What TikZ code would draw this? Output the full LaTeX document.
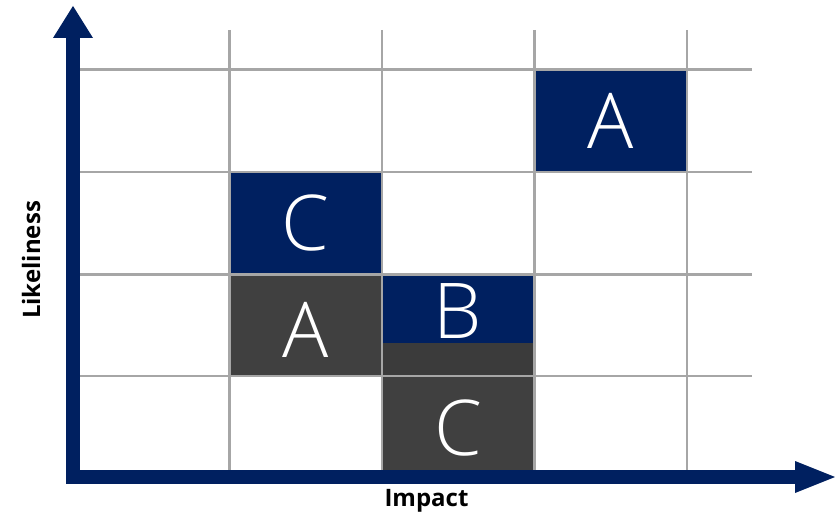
\documentclass[tikz,border=0pt]{standalone}
\usepackage{fontspec}
\setmainfont{Open Sans}
\newfontfamily\lightfont{Open Sans Light}
\definecolor{navy}{HTML}{002060}
\definecolor{dgray}{HTML}{404040}
\definecolor{dgrayb}{HTML}{3B3B3B}
\definecolor{gridc}{HTML}{A6A6A6}
\tikzset{
  cellblue/.style={fill=navy},
  cellgray/.style={fill=dgray},
  gridline/.style={draw=gridc, line width=2.5pt},
  axisline/.style={draw=navy, line width=14pt},
  axishead/.style={fill=navy},
  bigletter/.style={text=white, anchor=base, inner sep=0pt, font=\lightfont\fontsize{77}{77}\selectfont},
  axislabel/.style={text=black, inner sep=0pt, font=\bfseries\fontsize{24}{24}\selectfont},
}
\begin{document}
\begin{tikzpicture}[x=1pt,y=-1pt]
\useasboundingbox (0,0) rectangle (835,516);
% cells
\fill[cellblue] (534.5,69.5) rectangle (687,172);
\fill[cellblue] (229.5,172) rectangle (382,274.5);
\fill[cellgray] (229.5,274.5) rectangle (382,376);
\fill[cellblue] (382,274.5) rectangle (534.5,343);
\fill[dgrayb] (382,343) rectangle (534.5,376);
\fill[cellgray] (382,376) rectangle (534.5,471);
% grid
\foreach \gx in {229.5,382,534.5,687} \draw[gridline] (\gx,30) -- (\gx,471);
\foreach \gy in {69.5,172,274.5,376} \draw[gridline] (80,\gy) -- (752,\gy);
% axes
\draw[axisline] (73,483) -- (73,37);
\fill[axishead] (53,38) -- (93,38) -- (73,6) -- cycle;
\draw[axisline] (66,477) -- (796,477);
\fill[axishead] (795,461) -- (795,493) -- (835,477) -- cycle;
% letters
\node[bigletter] (a1) at (610.5,148.5) {A};
\node[bigletter] (c1) at (305.5,250.5) {C};
\node[bigletter] (a2) at (305.5,357) {A};
\node[bigletter] (b1) at (458,338) {B};
\node[bigletter] (c2) at (458.5,455.5) {C};
% labels
\node[axislabel, anchor=base] (impact) at (426.5,506) {Impact};
\node[axislabel, anchor=base, rotate=90] (likeliness) at (40,260) {Likeliness};
\end{tikzpicture}
\end{document}
